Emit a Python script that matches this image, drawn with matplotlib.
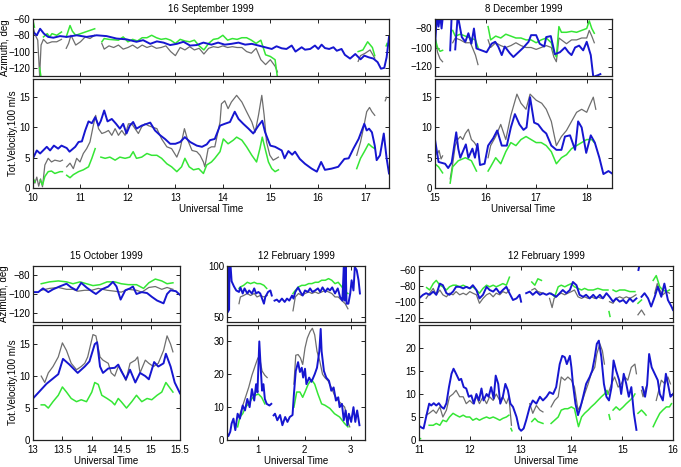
import numpy as np
import matplotlib.pyplot as plt

nan = np.nan

# ---------------- 16 September 1999 ----------------
sep_vel_blue = [(10.0,4.9),(10.08,6.2),(10.15,5.7),(10.29,6.8),(10.36,6.2),(10.44,7.0),(10.53,6.5),(10.6,7.0),(10.71,6.6),(10.77,6.0),
    (10.89,6.8),(10.96,7.6),(11.03,7.7),(11.1,9.5),(11.17,11.0),(11.24,10.7),(11.31,11.7),(11.38,10.3),(11.43,11.1),(11.5,12.8),
    (11.57,11.0),(11.66,11.4),(11.75,10.6),(11.83,9.8),(11.9,10.6),(11.97,9.0),(12.04,10.3),(12.11,10.9),(12.18,9.8),(12.29,10.3),
    (12.4,10.6),(12.47,10.8),(12.57,9.5),(12.68,8.7),(12.78,8.1),(12.89,7.3),(13.0,7.3),(13.1,7.6),(13.2,8.4),(13.31,7.6),
    (13.45,7.0),(13.56,6.8),(13.66,7.2),(13.73,7.9),(13.83,8.1),(13.94,10.3),(14.04,10.6),(14.15,10.9),(14.25,12.6),(14.33,11.4),
    (14.43,10.6),(14.54,9.8),(14.64,9.0),(14.75,10.3),(14.83,11.1),(14.89,9.2),(15.0,7.0),(15.1,6.8),(15.24,6.2),(15.3,4.9),
    (15.38,6.1),(15.46,5.5),(15.52,6.0),(15.62,4.8),(15.73,4.0),(15.87,3.2),(15.98,2.7),(16.07,4.3),(16.15,3.0),(16.29,3.2),
    (16.43,3.5),(16.56,4.8),(16.65,4.9),(16.75,6.5),(16.86,8.1),(16.98,10.6),(17.03,9.5),(17.08,9.8),(17.14,9.2),(17.2,7.0),
    (17.24,4.6),(17.31,5.4),(17.39,9.0),(17.45,4.9),(17.5,2.4)]
sep_vel_gray = [(10.0,1.6),(10.04,0.8),(10.08,1.8),(10.12,0.3),(10.16,1.5),(10.2,0.2),(10.25,3.8),(10.32,4.9),(10.39,4.3),(10.46,4.6),
    (10.57,4.4),(10.62,4.6),(10.66,nan),(10.71,3.5),(10.78,4.1),(10.85,3.2),(10.92,4.9),(10.99,4.3),(11.06,5.7),(11.13,6.5),
    (11.2,7.6),(11.27,10.3),(11.32,12.0),(11.38,9.8),(11.45,9.0),(11.52,9.2),(11.59,9.5),(11.66,8.7),(11.73,9.8),(11.8,8.7),
    (11.87,9.5),(11.94,8.7),(12.01,10.6),(12.08,10.6),(12.15,9.8),(12.22,9.0),(12.29,10.1),(12.36,10.6),(12.43,10.3),(12.5,10.1),
    (12.61,9.8),(12.71,8.1),(12.82,6.8),(12.92,6.5),(13.03,5.1),(13.1,6.5),(13.19,9.8),(13.26,7.9),(13.35,6.2),(13.45,6.0),
    (13.52,5.4),(13.59,4.3),(13.62,3.5),(13.69,6.5),(13.76,6.8),(13.83,6.8),(13.94,10.9),(13.97,13.9),(14.04,14.4),(14.11,13.1),
    (14.18,14.2),(14.29,15.3),(14.4,14.2),(14.5,12.6),(14.61,10.9),(14.68,9.2),(14.75,12.0),(14.82,15.3),(14.87,12.0),(14.92,7.6),
    (14.99,5.4),(15.06,4.6),(15.13,4.9),(15.17,5.1),(15.2,nan),(16.82,5.4),(16.9,7.6),(16.96,9.8),(17.03,12.6),(17.09,13.3),
    (17.14,12.6),(17.2,12.0),(17.3,nan),(17.42,14.4),(17.45,15.0)]
sep_vel_green = [(10.0,1.6),(10.04,1.0),(10.08,nan),(10.15,1.3),(10.2,0.5),(10.25,1.9),(10.32,2.7),(10.39,2.8),(10.46,2.4),(10.57,2.7),
    (10.62,2.7),(10.66,nan),(10.71,2.1),(10.78,1.7),(10.85,2.2),(10.96,2.7),(11.06,3.0),(11.17,3.5),(11.24,4.9),(11.31,6.5),
    (11.36,nan),(11.43,5.1),(11.52,4.9),(11.62,5.1),(11.73,4.6),(11.83,5.1),(11.94,4.9),(12.04,5.1),(12.11,6.0),(12.18,4.9),
    (12.29,5.1),(12.4,5.7),(12.5,5.4),(12.61,5.4),(12.71,4.9),(12.82,4.0),(12.92,3.5),(13.03,2.7),(13.13,3.5),(13.2,4.9),
    (13.29,3.5),(13.38,3.0),(13.49,3.2),(13.59,2.4),(13.66,3.8),(13.76,4.3),(13.83,4.9),(13.94,6.0),(14.01,8.1),(14.11,7.3),
    (14.22,7.9),(14.29,8.4),(14.4,7.9),(14.5,6.8),(14.61,5.4),(14.71,4.3),(14.78,6.5),(14.83,8.4),(14.89,6.5),(14.96,4.3),
    (15.03,3.2),(15.1,2.7),(15.17,3.0),(15.2,nan),(16.82,3.2),(16.9,4.9),(16.98,6.0),(17.07,7.3),(17.14,6.8),(17.2,6.5)]
sep_az_blue = [(10.0,-76),(10.08,-80),(10.15,-72),(10.23,-78),(10.32,-82),(10.43,-83),(10.57,-81),(10.71,-82),(10.92,-80),(11.13,-82),
    (11.34,-80),(11.55,-81),(11.76,-84),(11.97,-85),(12.18,-88),(12.32,-86),(12.47,-90.5),(12.61,-87.5),(12.75,-89),(12.89,-92),
    (13.03,-90.5),(13.17,-88),(13.31,-92.6),(13.45,-92),(13.59,-89),(13.76,-91.5),(13.9,-89),(14.04,-91.5),(14.18,-90.5),(14.33,-89),
    (14.47,-91.5),(14.61,-90.5),(14.75,-92.6),(14.89,-94.7),(15.03,-96.8),(15.13,-93.5),(15.24,-96),(15.34,-96.8),(15.45,-92.6),(15.53,-100),
    (15.66,-94.7),(15.73,-97.7),(15.84,-96.8),(15.94,-92.6),(16.01,-96.8),(16.08,-91.5),(16.15,-95.7),(16.24,-96.8),(16.33,-94.7),(16.4,-99),
    (16.5,-96.8),(16.57,-104),(16.68,-108.6),(16.79,-103),(16.9,-109.5),(16.98,-105),(17.07,-107),(17.17,-108.6),(17.26,-113),(17.33,-121),
    (17.4,-120),(17.45,-107),(17.5,-82)]
sep_az_gray = [(10.0,-70),(10.05,-80),(10.1,-86),(10.14,-130),(10.17,-92),(10.22,-85),(10.3,-90),(10.4,-88),(10.5,-88),(10.6,-85),
    (10.65,nan),(10.7,-96),(10.75,-90),(10.8,-80),(10.9,-92),(11.0,-88),(11.1,-82),(11.2,-84),(11.3,-80),(11.38,nan),
    (11.45,-90),(11.5,-97),(11.6,-93),(11.7,-95),(11.8,-92),(11.9,-97),(12.0,-95),(12.1,-92),(12.2,-96),(12.3,-92),
    (12.4,-95),(12.5,-93),(12.6,-96),(12.7,-95),(12.8,-93),(12.9,-100),(13.0,-105),(13.1,-95),(13.2,-98),(13.3,-94),
    (13.4,-98),(13.5,-96),(13.6,-103),(13.7,-96),(13.8,-94),(13.9,-95),(14.0,-93),(14.1,-95),(14.2,-94),(14.3,-95),
    (14.4,-95),(14.5,-100),(14.6,-102),(14.7,-96),(14.8,-110),(14.9,-116),(15.0,-110),(15.1,-118),(15.15,-125),(15.2,nan),
    (16.85,-112),(16.9,-105),(17.0,-102),(17.1,-98),(17.2,-108)]
sep_az_green = [(10.0,-62),(10.03,-70),(10.06,nan),(10.14,-120),(10.17,-132),(10.19,nan),(10.22,-82),(10.3,-78),(10.35,-82),(10.4,-78),
    (10.5,-80),(10.6,-76),(10.65,nan),(10.7,-82),(10.78,-68),(10.83,-75),(10.9,-80),(11.0,-78),(11.1,-76),(11.2,-74),
    (11.3,-72),(11.38,nan),(11.45,-88),(11.5,-84),(11.6,-85),(11.8,-86),(11.9,-82),(12.0,-88),(12.1,-85),(12.2,-87),
    (12.3,-83),(12.4,-83),(12.5,-80),(12.6,-83),(12.7,-85),(12.8,-84),(12.9,-86),(13.0,-90),(13.1,-85),(13.2,-87),
    (13.3,-88),(13.4,-86),(13.5,-93),(13.6,-98),(13.7,-90),(13.8,-85),(13.9,-84),(14.0,-80),(14.1,-86),(14.2,-84),
    (14.3,-85),(14.4,-83),(14.5,-83),(14.6,-86),(14.7,-90),(14.8,-86),(14.9,-104),(15.0,-106),(15.1,-110),(15.15,-132),
    (15.2,nan),(16.85,-100),(16.95,-98),(17.05,-88),(17.15,-95),(17.2,-105),(17.3,nan),(17.44,-93),(17.46,-90)]

# ---------------- 8 December 1999 ----------------
dec_vel_blue = [(15.0,8.0),(15.07,4.3),(15.2,4.0),(15.26,3.3),(15.33,4.2),(15.42,9.2),(15.46,6.5),(15.5,5.0),(15.61,7.2),(15.66,5.0),
    (15.74,6.5),(15.79,5.0),(15.84,7.3),(15.89,3.8),(15.98,4.0),(16.05,7.0),(16.15,8.2),(16.23,9.5),(16.32,7.0),(16.42,7.0),
    (16.5,10.0),(16.58,12.2),(16.67,10.5),(16.75,9.6),(16.81,10.0),(16.88,15.0),(16.96,10.8),(17.04,10.5),(17.13,9.5),(17.2,9.0),
    (17.3,7.0),(17.4,6.3),(17.5,6.3),(17.57,8.5),(17.67,8.7),(17.77,6.3),(17.83,11.0),(17.9,10.0),(17.99,5.8),(18.08,8.7),
    (18.16,7.5),(18.25,5.0),(18.33,2.3),(18.43,2.8),(18.5,2.4)]
dec_vel_gray = [(15.0,7.5),(15.04,5.5),(15.08,6.2),(15.12,4.8),(15.15,5.3),(15.2,nan),(15.3,1.5),(15.35,4.0),(15.4,7.0),(15.45,8.0),
    (15.5,8.5),(15.55,8.0),(15.6,9.0),(15.66,9.7),(15.72,8.0),(15.78,7.5),(15.85,6.5),(15.9,nan),(16.05,5.0),(16.1,7.0),
    (16.2,8.5),(16.3,10.5),(16.4,8.0),(16.5,12.0),(16.62,15.5),(16.7,14.0),(16.8,13.0),(16.88,15.5),(17.0,14.5),(17.11,14.0),
    (17.2,13.0),(17.3,11.0),(17.4,7.0),(17.5,8.5),(17.6,9.5),(17.7,11.0),(17.8,12.5),(17.9,13.0),(18.0,12.5),(18.05,13.5),
    (18.13,15.0),(18.18,13.0)]
dec_vel_green = [(15.0,4.0),(15.07,3.5),(15.15,2.5),(15.2,nan),(15.3,0.8),(15.35,3.5),(15.46,4.5),(15.6,5.0),(15.72,4.5),(15.82,2.8),
    (15.9,nan),(16.05,2.8),(16.1,3.5),(16.2,5.0),(16.3,4.0),(16.4,6.0),(16.5,7.5),(16.6,7.0),(16.7,8.0),(16.8,8.5),
    (16.9,8.0),(17.0,7.5),(17.1,7.5),(17.2,7.0),(17.3,6.0),(17.4,4.0),(17.5,5.0),(17.6,5.5),(17.7,6.5),(17.8,7.0),
    (17.9,7.5),(18.0,8.0),(18.1,8.0),(18.15,7.5)]
dec_az_blue = [(15.0,-98),(15.04,-65),(15.07,-78),(15.1,-65),(15.13,-80),(15.16,-65),(15.2,nan),(15.3,-103),(15.33,-66),(15.36,nan),
    (15.4,-102),(15.45,-66),(15.53,-89),(15.6,-94),(15.66,-85),(15.72,-96),(15.77,-80),(15.82,-101),(15.92,-103),(16.02,-105),
    (16.12,-96),(16.19,-94),(16.25,-99),(16.32,-108),(16.38,-99),(16.48,-106),(16.55,-110),(16.65,-105),(16.75,-100),(16.85,-94),
    (16.9,-87),(17.0,-87),(17.07,-96),(17.16,-99),(17.2,-89),(17.29,-88),(17.37,-107),(17.47,-105),(17.57,-100),(17.64,-105),
    (17.7,-108),(17.77,-100),(17.85,-98),(17.93,-103),(18.0,-94),(18.08,-108),(18.13,-131),(18.23,-129),(18.27,-128)]
dec_az_gray = [(15.0,-88),(15.05,-105),(15.1,-112),(15.15,-115),(15.2,nan),(15.35,-95),(15.4,-90),(15.5,-92),(15.6,-95),(15.7,-95),
    (15.8,-108),(15.85,-118),(15.9,nan),(16.05,-92),(16.1,-100),(16.2,-95),(16.3,-98),(16.4,-100),(16.5,-98),(16.6,-95),
    (16.7,-98),(16.8,-100),(16.9,-100),(17.0,-102),(17.1,-100),(17.2,-98),(17.3,-100),(17.35,-110),(17.4,-115),(17.45,-90),
    (17.5,-92),(17.6,-96),(17.7,-92),(17.8,-92),(17.9,-90),(18.0,-90),(18.05,-82),(18.1,-88),(18.15,-95)]
dec_az_green = [(15.0,-90),(15.05,-100),(15.1,-104),(15.15,-103),(15.2,nan),(15.35,-82),(15.4,-88),(15.5,-86),(15.6,-88),(15.7,-90),
    (15.8,-92),(15.85,-100),(15.9,nan),(16.05,-78),(16.1,-92),(16.2,-88),(16.3,-90),(16.4,-86),(16.5,-88),(16.6,-90),
    (16.7,-90),(16.8,-92),(16.9,-92),(17.0,-95),(17.1,-92),(17.2,-90),(17.3,-95),(17.35,-105),(17.4,-110),(17.45,-78),
    (17.5,-84),(17.6,-84),(17.7,-83),(17.8,-84),(17.9,-82),(18.0,-80),(18.05,-72),(18.1,-80),(18.15,-85)]

# ---------------- 15 October 1999 ----------------
oct_vel_blue = [(13.0,6.5),(13.23,8.8),(13.43,10.3),(13.51,12.7),(13.62,11.8),(13.76,10.5),(13.88,11.5),(13.96,12.3),(14.05,15.0),(14.09,15.3),
    (14.14,11.5),(14.19,10.5),(14.28,11.2),(14.39,11.3),(14.45,11.8),(14.5,10.8),(14.58,9.5),(14.65,11.0),(14.74,9.0),(14.82,10.5),
    (14.91,10.0),(14.97,9.5),(15.06,12.2),(15.13,11.5),(15.22,12.0),(15.26,13.5),(15.34,11.5),(15.41,9.0),(15.5,7.3)]
oct_vel_gray = [(13.14,10.0),(13.2,9.0),(13.26,10.5),(13.34,11.5),(13.43,13.0),(13.5,15.2),(13.57,14.0),(13.65,12.0),(13.74,11.0),(13.82,11.5),
    (13.88,12.0),(13.93,13.0),(14.02,16.5),(14.07,16.3),(14.14,13.0),(14.19,12.5),(14.28,12.0),(14.33,10.5),(14.39,10.0),(14.45,11.5),
    (14.5,11.0),(14.58,9.3),(14.65,12.0),(14.74,12.5),(14.78,13.0),(14.82,10.5),(14.91,12.5),(14.97,12.0),(15.05,11.5),(15.13,12.0),
    (15.22,14.0),(15.28,16.3),(15.34,15.0),(15.38,13.8)]
oct_vel_green = [(13.14,5.5),(13.2,5.5),(13.26,5.0),(13.34,6.0),(13.43,7.0),(13.5,8.3),(13.57,7.5),(13.65,6.5),(13.74,6.0),(13.82,6.3),
    (13.91,6.0),(14.0,7.5),(14.05,9.0),(14.11,8.7),(14.17,7.0),(14.26,6.5),(14.34,6.0),(14.39,5.5),(14.45,6.5),(14.5,6.0),
    (14.59,5.0),(14.68,6.0),(14.76,7.0),(14.85,6.0),(14.94,6.5),(15.02,6.3),(15.11,7.0),(15.19,7.5),(15.26,9.0),(15.34,8.0),
    (15.38,7.5)]
oct_az_blue = [(13.0,-98),(13.09,-98),(13.17,-94),(13.26,-98),(13.34,-95),(13.45,-92),(13.57,-89),(13.65,-93),(13.74,-96),(13.82,-88),
    (13.91,-93),(14.02,-98),(14.07,-100),(14.17,-95),(14.28,-92),(14.36,-87),(14.42,-92),(14.49,-106),(14.57,-96),(14.65,-94),
    (14.7,-92),(14.76,-100),(14.85,-98),(14.94,-99),(15.02,-103),(15.11,-107),(15.22,-110),(15.28,-100),(15.34,-96),(15.43,-97),
    (15.5,-101)]
oct_az_gray = [(13.14,-96),(13.28,-94),(13.43,-93),(13.57,-95),(13.68,-95),(13.76,-97),(13.88,-96),(14.0,-96),(14.11,-94),(14.26,-96),
    (14.39,-97),(14.5,-98),(14.62,-95),(14.76,-96),(14.85,-98),(14.97,-93),(15.08,-92),(15.19,-95),(15.28,-93),(15.38,-95)]
oct_az_green = [(13.14,-89),(13.28,-87),(13.43,-86),(13.57,-87),(13.68,-89),(13.8,-87),(13.91,-89),(14.02,-91),(14.14,-90),(14.26,-87),
    (14.39,-87),(14.5,-89),(14.62,-90),(14.76,-90),(14.88,-94),(14.97,-88),(15.08,-84),(15.19,-86),(15.28,-89),(15.38,-88)]

# ---------------- 12 February 1999 (early) ----------------
feb1_vel_blue = [(0.32,2.0),(0.35,1.2),(0.39,2.5),(0.42,5.0),(0.46,6.5),(0.5,3.0),(0.55,8.0),(0.6,6.5),(0.66,10.5),(0.71,9.0),
    (0.76,12.5),(0.81,10.0),(0.86,15.5),(0.91,12.0),(0.95,17.0),(0.98,14.5),(1.02,30.0),(1.05,22.0),(1.08,15.0),(1.11,17.0),
    (1.14,12.5),(1.18,11.0),(1.24,10.5),(1.28,11.0),(1.3,nan),(1.33,7.5),(1.36,8.0),(1.41,6.0),(1.47,7.6),(1.52,4.5),
    (1.58,7.0),(1.63,5.5),(1.68,7.0),(1.74,7.6),(1.77,14.0),(1.81,21.0),(1.86,23.7),(1.9,20.7),(1.94,22.0),(1.97,19.0),
    (2.01,21.7),(2.04,17.0),(2.1,19.0),(2.15,17.7),(2.22,20.0),(2.27,22.0),(2.32,27.0),(2.35,33.8),(2.37,27.0),(2.42,21.0),
    (2.47,19.0),(2.53,18.0),(2.58,15.0),(2.63,16.0),(2.68,12.0),(2.73,13.0),(2.76,10.0),(2.81,11.0),(2.85,6.0),(2.89,9.0),
    (2.93,4.5),(2.96,8.0),(3.01,5.5),(3.06,10.0),(3.1,5.5),(3.14,9.0),(3.19,4.5)]
feb1_vel_gray = [(0.58,7.0),(0.65,10.0),(0.72,13.0),(0.79,16.0),(0.86,19.7),(0.94,23.0),(0.99,25.0),(1.04,24.0),(1.08,21.0),(1.14,19.7),
    (1.19,19.0),(1.22,nan),(1.77,17.0),(1.81,25.8),(1.86,26.0),(1.91,25.0),(1.96,23.0),(2.01,28.0),(2.06,31.0),(2.12,33.0),
    (2.17,34.0),(2.22,32.0),(2.27,27.0),(2.33,24.0),(2.39,20.0),(2.44,19.0),(2.51,18.0),(2.58,16.0),(2.65,13.6),(2.73,12.0),
    (2.8,11.0),(2.87,10.0),(2.94,5.5),(2.98,4.0)]
feb1_vel_green = [(0.55,4.0),(0.6,7.0),(0.66,8.0),(0.72,10.0),(0.79,11.0),(0.86,12.6),(0.93,13.6),(1.0,14.0),(1.07,13.0),(1.14,11.0),
    (1.18,nan),(1.77,10.0),(1.83,14.6),(1.9,14.6),(1.96,13.0),(2.01,14.6),(2.08,17.0),(2.15,18.4),(2.22,17.0),(2.29,14.0),
    (2.37,11.0),(2.44,10.6),(2.55,9.6),(2.65,8.0),(2.76,7.0),(2.87,5.0),(2.94,4.0)]
feb1_az_blue = [(0.32,86),(0.335,105),(0.345,55),(0.355,105),(0.365,57),(0.375,105),(0.39,105),(0.42,85),(0.47,80),(0.52,76),
    (0.58,74.5),(0.61,79),(0.66,73),(0.7,78),(0.76,73),(0.8,76),(0.86,73),(0.91,78),(0.95,73),(1.0,74.5),
    (1.04,73),(1.08,68),(1.12,63),(1.15,69.6),(1.21,74.5),(1.26,76),(1.29,71),(1.32,nan),(1.35,66),(1.4,67),
    (1.45,64.7),(1.51,68),(1.57,64.7),(1.62,68),(1.67,66),(1.73,71),(1.76,68),(1.8,74.5),(1.86,79),(1.91,74.5),
    (1.96,71),(2.01,76),(2.07,74.5),(2.12,78),(2.17,74.5),(2.23,76),(2.29,78),(2.34,74.5),(2.39,79),(2.45,74.5),
    (2.5,78),(2.55,76),(2.6,79),(2.66,73),(2.72,78),(2.77,69.6),(2.82,66),(2.855,105),(2.87,66),(2.89,105),
    (2.91,63),(2.95,63),(2.99,73),(3.02,86),(3.06,76),(3.09,99),(3.13,96),(3.17,86),(3.2,73)]
feb1_az_gray = [(0.58,63),(0.61,69.6),(0.68,71),(0.76,73),(0.83,71),(0.91,73),(0.97,69.6),(1.04,71),(1.12,69.6),(1.19,71),
    (1.22,nan),(1.75,56),(1.8,69.6),(1.87,73),(1.94,71),(2.01,73),(2.09,74.5),(2.16,73),(2.23,74.5),(2.3,73),
    (2.37,74.5),(2.45,76),(2.52,74.5),(2.59,73),(2.66,69.6),(2.73,69.6),(2.81,66),(2.88,63),(2.94,58)]
feb1_az_green = [(0.58,78),(0.61,79.4),(0.68,81),(0.76,84),(0.83,82.7),(0.91,84),(0.97,82.7),(1.04,82.7),(1.12,81),(1.18,78),
    (1.22,nan),(1.75,73),(1.8,76),(1.87,79.4),(1.94,81),(2.01,81),(2.09,82.7),(2.16,82.7),(2.23,84),(2.3,84),
    (2.37,86),(2.45,86),(2.52,87.6),(2.59,86),(2.66,82.7),(2.73,84),(2.81,79.4),(2.88,74.5),(2.94,73)]

# ---------------- 12 February 1999 (late) ----------------
feb2_vel_blue = [(11.0,3.1),(11.05,2.7),(11.09,2.5),(11.14,5.0),(11.2,7.9),(11.24,7.5),(11.29,8.0),(11.34,7.5),(11.39,8.0),(11.44,7.2),
    (11.49,6.8),(11.54,8.0),(11.59,11.5),(11.64,14.4),(11.68,15.5),(11.73,14.4),(11.79,13.0),(11.83,13.3),(11.88,11.5),(11.93,11.2),
    (11.98,9.4),(12.03,9.7),(12.08,7.9),(12.13,10.0),(12.18,8.6),(12.23,11.2),(12.27,8.6),(12.33,10.0),(12.37,9.4),(12.42,11.5),
    (12.47,9.0),(12.51,14.0),(12.56,12.2),(12.6,7.9),(12.65,9.4),(12.7,12.2),(12.75,10.8),(12.8,7.9),(12.85,7.2),(12.92,5.0),
    (12.97,2.5),(13.01,2.0),(13.06,2.5),(13.11,4.3),(13.18,7.2),(13.24,8.6),(13.31,7.9),(13.38,9.4),(13.44,8.6),(13.51,9.4),
    (13.57,10.4),(13.64,10.0),(13.7,11.5),(13.77,16.5),(13.82,18.3),(13.87,18.0),(13.91,16.5),(13.97,18.3),(14.0,15.8),(14.03,12.2),
    (14.08,7.9),(14.13,5.4),(14.18,7.2),(14.23,9.4),(14.29,12.2),(14.36,13.7),(14.41,15.1),(14.46,18.0),(14.5,20.9),(14.54,21.6),
    (14.59,18.0),(14.64,12.2),(14.69,9.4),(14.74,8.6),(14.79,11.5),(14.83,17.3),(14.88,15.1),(14.94,13.0),(14.98,10.0),(15.03,14.4),
    (15.08,12.2),(15.13,9.4),(15.18,11.5),(15.23,5.8),(15.28,2.2),(15.3,nan),(15.4,11.5),(15.45,9.4),(15.49,12.0),(15.53,18.7),
    (15.58,15.8),(15.64,14.4),(15.7,13.0),(15.74,10.0),(15.8,8.6),(15.86,14.4),(15.9,12.2),(15.95,9.4),(16.0,10.0)]
feb2_vel_gray = [(11.14,5.4),(11.2,5.8),(11.28,6.5),(11.34,5.8),(11.41,7.2),(11.47,5.0),(11.54,6.5),(11.6,9.4),(11.67,10.0),(11.73,10.8),
    (11.8,9.4),(11.87,9.4),(11.93,7.9),(12.0,8.6),(12.06,7.9),(12.13,9.4),(12.19,7.9),(12.26,9.4),(12.33,7.9),(12.39,9.4),
    (12.46,8.6),(12.52,10.0),(12.59,8.6),(12.65,9.4),(12.72,7.9),(12.77,9.4),(12.82,3.2),(12.85,nan),(13.18,7.9),(13.24,5.8),
    (13.31,7.5),(13.38,6.5),(13.44,6.1),(13.5,nan),(13.6,7.2),(13.67,8.6),(13.74,9.4),(13.8,13.7),(13.87,13.0),(13.93,13.7),
    (14.0,13.0),(14.06,11.5),(14.13,6.5),(14.2,7.9),(14.26,10.0),(14.33,12.2),(14.39,14.4),(14.46,15.8),(14.5,18.7),(14.56,20.9),
    (14.61,19.4),(14.65,16.5),(14.68,nan),(14.72,10.0),(14.79,12.2),(14.85,13.7),(14.92,11.5),(14.98,12.2),(15.05,13.7),(15.11,13.0),
    (15.18,15.8),(15.25,16.5),(15.28,14.4),(15.32,nan),(15.38,10.8),(15.41,9.4),(15.47,11.5),(15.5,nan),(15.67,8.6),(15.72,10.8),
    (15.77,13.0),(15.84,12.2),(15.9,13.7),(15.95,12.2)]
feb2_vel_green = [(11.0,0.2),(11.03,0.3),(11.06,nan),(11.2,3.2),(11.28,3.2),(11.34,3.6),(11.41,3.2),(11.47,4.3),(11.54,4.0),(11.6,5.0),
    (11.67,5.8),(11.73,5.4),(11.8,5.0),(11.87,5.4),(11.93,5.0),(12.0,5.0),(12.06,4.3),(12.13,4.7),(12.19,4.3),(12.26,4.7),
    (12.33,5.0),(12.39,4.7),(12.46,5.0),(12.52,4.7),(12.59,4.3),(12.65,4.7),(12.72,5.0),(12.77,5.4),(12.8,nan),(12.81,2.5),
    (12.83,2.0),(12.85,nan),(13.22,4.0),(13.28,4.7),(13.34,4.0),(13.44,3.6),(13.5,nan),(13.6,3.6),(13.67,4.3),(13.74,5.0),
    (13.8,6.5),(13.87,6.8),(13.93,6.8),(14.0,7.2),(14.06,6.8),(14.11,4.3),(14.14,2.9),(14.2,5.0),(14.26,5.8),(14.33,6.5),
    (14.39,7.2),(14.46,7.9),(14.52,8.6),(14.59,9.4),(14.65,10.0),(14.7,10.8),(14.72,10.0),(14.73,nan),(14.74,5.5),(14.76,4.5),
    (14.78,nan),(14.82,6.5),(14.88,7.2),(14.95,6.5),(15.02,7.2),(15.08,7.9),(15.15,8.6),(15.22,9.4),(15.25,10.0),(15.28,nan),
    (15.31,5.8),(15.38,6.5),(15.44,5.8),(15.47,5.4),(15.5,nan),(15.61,2.9),(15.67,4.3),(15.74,5.8),(15.8,6.5),(15.87,7.2),
    (15.93,7.2),(15.97,7.9)]
feb2_az_blue = [(11.0,-95.5),(11.08,-91),(11.14,-89),(11.21,-91),(11.28,-87),(11.34,-91),(11.41,-77),(11.47,-79),(11.54,-89),(11.6,-91),
    (11.67,-87),(11.73,-81),(11.8,-81),(11.87,-83),(11.93,-81),(12.0,-83),(12.06,-79),(12.13,-85),(12.19,-95.5),(12.26,-91),
    (12.33,-81),(12.39,-85),(12.46,-87),(12.52,-83),(12.59,-89),(12.65,-85),(12.72,-81),(12.78,-89),(12.85,-97.5),(12.92,-95.5),
    (12.98,-91),(13.01,-99.6),(13.05,nan),(13.11,-89),(13.18,-87),(13.24,-91),(13.31,-87),(13.38,-91),(13.44,-89),(13.51,-91),
    (13.57,-89),(13.64,-91),(13.7,-93.5),(13.77,-89),(13.83,-85),(13.9,-89),(13.97,-85),(14.03,-75),(14.1,-79),(14.16,-91),
    (14.23,-93.5),(14.29,-91),(14.36,-95.5),(14.43,-91),(14.49,-95.5),(14.56,-91),(14.62,-95.5),(14.69,-89),(14.75,-93.5),(14.82,-99.6),
    (14.88,-95.5),(14.95,-99.6),(15.02,-97.5),(15.08,-101.6),(15.15,-95.5),(15.21,-99.6),(15.28,-95.5),(15.3,nan),(15.32,-60),(15.34,-54),
    (15.36,nan),(15.38,-93.5),(15.44,-89),(15.51,-95.5),(15.57,-105.7),(15.64,-93.5),(15.7,-81),(15.77,-93.5),(15.83,-77),(15.9,-97.5),
    (15.97,-105.7),(16.0,-110)]
feb2_az_gray = [(11.14,-95.5),(11.21,-89),(11.28,-83),(11.34,-91),(11.41,-85),(11.47,-91),(11.54,-93.5),(11.6,-89),(11.67,-91),(11.73,-87),
    (11.8,-91),(11.87,-89),(11.93,-91),(12.0,-87),(12.06,-89),(12.13,-91),(12.19,-101.6),(12.26,-95.5),(12.33,-91),(12.39,-89),
    (12.46,-93.5),(12.52,-89),(12.59,-91),(12.65,-87),(12.72,-89),(12.78,-85),(12.82,nan),(13.22,-85),(13.28,-83),(13.34,-87),
    (13.44,-89),(13.5,nan),(13.57,-95.5),(13.62,-107),(13.66,-95.5),(13.74,-91),(13.8,-89),(13.87,-91),(13.93,-89),(14.0,-87),
    (14.06,-85),(14.13,-93.5),(14.2,-95.5),(14.26,-93.5),(14.33,-95.5),(14.39,-93.5),(14.46,-95.5),(14.52,-93.5),(14.59,-95.5),(14.65,-93.5),
    (14.7,nan),(14.75,-99.6),(14.82,-101.6),(14.88,-95.5),(14.95,-93.5),(15.02,-95.5),(15.08,-93.5),(15.15,-95.5),(15.21,-93.5),(15.27,-91),
    (15.3,nan),(15.31,-116),(15.38,-110),(15.44,-116),(15.48,nan),(15.64,-89),(15.69,-77),(15.74,-85),(15.8,-91),(15.87,-87),
    (15.93,-89)]
feb2_az_green = [(11.15,-82),(11.21,-85),(11.28,-77),(11.34,-73),(11.41,-79),(11.47,-81),(11.54,-85),(11.6,-81),(11.67,-79),(11.73,-79),
    (11.8,-81),(11.87,-79),(11.93,-81),(12.0,-83),(12.06,-81),(12.13,-85),(12.19,-89),(12.26,-83),(12.33,-79),(12.39,-81),
    (12.46,-79),(12.52,-81),(12.59,-79),(12.65,-77),(12.72,-79),(12.78,-69),(12.82,nan),(13.22,-75),(13.28,-79),(13.34,-71),
    (13.41,-73),(13.45,nan),(13.6,-89),(13.67,-93.5),(13.74,-81),(13.8,-79),(13.87,-81),(13.93,-79),(14.0,-77),(14.06,-81),
    (14.13,-83),(14.2,-85),(14.26,-83),(14.33,-85),(14.43,-85),(14.52,-83),(14.62,-85),(14.72,-85),(14.73,nan),(14.74,-112),
    (14.76,-118),(14.78,nan),(14.82,-85),(14.88,-87),(14.95,-85),(15.05,-85),(15.15,-87),(15.25,-87),(15.28,nan),(15.31,-101.6),
    (15.38,-97.5),(15.42,nan),(15.61,-73),(15.67,-67),(15.74,-81),(15.8,-85),(15.87,-87),(15.93,-85)]

# ---------------- drawing ----------------
plt.rcParams['font.family'] = ['Liberation Sans', 'DejaVu Sans']
plt.rcParams['font.size'] = 7
BLUE = '#1616d0'
GREEN = '#35e635'
GRAY = '#6e6e6e'
W, H = 681, 467

fig = plt.figure(figsize=(W / 100, H / 100), dpi=100)


def box(x0, x1, y0, y1):
    return [x0 / W, 1 - y1 / H, (x1 - x0) / W, (y1 - y0) / H]


def style(ax):
    ax.tick_params(direction='in', length=3, width=0.6, top=True, right=True, labelsize=7)
    ax.tick_params(axis='y', pad=2)
    ax.tick_params(axis='x', pad=3.5)
    for s in ax.spines.values():
        s.set_linewidth(0.9)
        s.set_color('#222222')


def draw(ax, gray, green, blue):
    for data, c, lw in [(gray, GRAY, 0.9), (green, GREEN, 1.1), (blue, BLUE, 1.4)]:
        t, v = np.array(data, dtype=float).T
        ax.plot(t, v, color=c, lw=lw)


panels = [
    ('16 September 1999', (33, 389), 'top', (10, 17.5), range(10, 18),
     (sep_az_gray, sep_az_green, sep_az_blue), (-130, -60), [-120, -100, -80, -60],
     (sep_vel_gray, sep_vel_green, sep_vel_blue), (0, 18), [0, 5, 10, 15], True),
    ('8 December 1999', (435, 612), 'top', (15, 18.5), [15, 16, 17, 18],
     (dec_az_gray, dec_az_green, dec_az_blue), (-130, -70), [-120, -100, -80],
     (dec_vel_gray, dec_vel_green, dec_vel_blue), (0, 18), [0, 5, 10, 15], False),
    ('15 October 1999', (33, 180), 'bottom', (13, 15.5), [13, 13.5, 14, 14.5, 15, 15.5],
     (oct_az_gray, oct_az_green, oct_az_blue), (-130, -70), [-120, -100, -80],
     (oct_vel_gray, oct_vel_green, oct_vel_blue), (0, 18), [0, 5, 10, 15], True),
    ('12 February 1999', (227, 365), 'bottom', (0.32, 3.31), [1, 2, 3],
     (feb1_az_gray, feb1_az_green, feb1_az_blue), (45, 100), [50, 100],
     (feb1_vel_gray, feb1_vel_green, feb1_vel_blue), (0, 35), [0, 10, 20, 30], False),
    ('12 February 1999', (419, 673), 'bottom', (11, 16), [11, 12, 13, 14, 15, 16],
     (feb2_az_gray, feb2_az_green, feb2_az_blue), (-125, -55), [-120, -100, -80, -60],
     (feb2_vel_gray, feb2_vel_green, feb2_vel_blue), (0, 25), [0, 5, 10, 15, 20], False),
]
rows = {'top': ((19, 76), (79, 188)), 'bottom': ((266, 322), (325, 440))}

for (title, (x0, x1), row, xlim, xticks, az, az_lim, az_ticks,
     vel, vel_lim, vel_ticks, ylab) in panels:
    (ay0, ay1), (vy0, vy1) = rows[row]
    ax_az = fig.add_axes(box(x0, x1, ay0, ay1))
    ax_v = fig.add_axes(box(x0, x1, vy0, vy1))

    draw(ax_az, *az)
    ax_az.set_xlim(xlim)
    ax_az.set_ylim(az_lim)
    ax_az.set_xticks(xticks)
    ax_az.set_xticklabels([])
    ax_az.set_yticks(az_ticks)
    ax_az.set_title(title, fontsize=7, pad=5)
    style(ax_az)

    draw(ax_v, *vel)
    ax_v.set_xlim(xlim)
    ax_v.set_ylim(vel_lim)
    ax_v.set_xticks(xticks)
    ax_v.set_xticklabels([('%g' % x) for x in xticks])
    ax_v.set_yticks(vel_ticks)
    ax_v.set_xlabel('Universal Time', labelpad=1)
    style(ax_v)

    if ylab:
        w = x1 - x0
        ax_az.set_ylabel('Azimuth, deg')
        ax_az.yaxis.set_label_coords((9.5 - x0) / w, 0.5)
        ax_v.set_ylabel('Tot.Velocity,100 m/s')
        ax_v.yaxis.set_label_coords((18 - x0) / w, 0.5)

fig.savefig('out.png', dpi=100)
